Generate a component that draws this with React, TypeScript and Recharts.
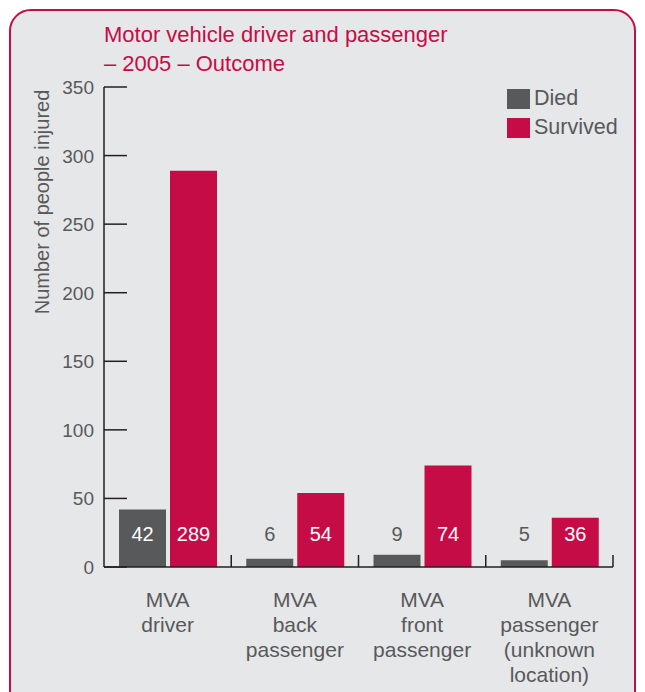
import { BarChart, Bar, XAxis, YAxis, LabelList } from "recharts";

const categories = [
    ["MVA", "driver"],
    ["MVA", "back", "passenger"],
    ["MVA", "front", "passenger"],
    ["MVA", "passenger", "(unknown", "location)"],
];
const died = [42, 6, 9, 5];
const survived = [289, 54, 74, 36];
const yTicks = [0, 50, 100, 150, 200, 250, 300, 350];

const CRIMSON = "#c60c46";
const GREY = "#58595b";
const AXIS = "#231f20";
const FONT = "'Liberation Sans', Arial, sans-serif";

const CHART_W = 645;
const CHART_H = 692;
const LEFT = 104;
const RIGHT = 32;
const BAND = (CHART_W - LEFT - RIGHT) / categories.length;

const data = categories.map((lines, i) => ({
    name: lines.join(" "),
    Died: died[i],
    Survived: survived[i],
}));

const legendItems = [
    { label: "Died", color: GREY },
    { label: "Survived", color: CRIMSON },
];

function YTick({ x, y, payload }: any) {
    return (
        <g>
            <line x1={x} x2={x + 23} y1={y} y2={y} stroke={AXIS} strokeWidth={1.5} />
            <text x={x - 10} y={y + 7} textAnchor="end" fill={GREY} fontSize={19} fontFamily={FONT}>
                {payload.value}
            </text>
        </g>
    );
}

function XTick({ x, y, index }: any) {
    const lines = categories[index] ?? [];
    return (
        <g>
            <line x1={x + BAND / 2} x2={x + BAND / 2} y1={y} y2={y - 12} stroke={AXIS} strokeWidth={1.5} />
            {lines.map((line, i) => (
                <text
                    key={i}
                    x={x}
                    y={y + 40 + i * 25}
                    textAnchor="middle"
                    fill={GREY}
                    fontSize={21}
                    fontFamily={FONT}
                >
                    {line}
                </text>
            ))}
        </g>
    );
}

function ValueLabel({ x, y, width, height, value }: any) {
    const inside = height > 40;
    return (
        <text
            x={x + width / 2}
            y={y + height - 26}
            textAnchor="middle"
            fill={inside ? "#ffffff" : GREY}
            fontSize={20}
            fontFamily={FONT}
        >
            {value}
        </text>
    );
}

export default function App() {
    return (
        <div style={{ position: "fixed", left: 0, top: 0, width: 645, height: 692, overflow: "hidden" }}>
            <div
                style={{
                    position: "absolute",
                    left: 9,
                    top: 9,
                    width: 623,
                    height: 700,
                    border: `2.5px solid ${CRIMSON}`,
                    borderRadius: 22,
                    background: "#e6e7e8",
                }}
            />
            <div
                style={{
                    position: "absolute",
                    left: 104,
                    top: 20,
                    color: CRIMSON,
                    fontFamily: FONT,
                    fontSize: 22,
                    lineHeight: "29px",
                }}
            >
                <div>Motor vehicle driver and passenger</div>
                <div>– 2005 – Outcome</div>
            </div>
            <svg style={{ position: "absolute", left: 0, top: 0 }} width={80} height={692}>
                <text
                    transform="translate(49, 202) rotate(-90)"
                    textAnchor="middle"
                    fill={GREY}
                    fontSize={20}
                    fontFamily={FONT}
                >
                    Number of people injured
                </text>
            </svg>
            <div style={{ position: "absolute", left: 0, top: 0 }}>
                <BarChart
                    width={CHART_W}
                    height={CHART_H}
                    data={data}
                    margin={{ top: 87, right: RIGHT, left: 0, bottom: 0 }}
                    barSize={47}
                    barGap={4}
                >
                    <XAxis
                        dataKey="name"
                        height={125}
                        axisLine={{ stroke: AXIS, strokeWidth: 1.5 }}
                        tickLine={false}
                        tickSize={0}
                        tickMargin={0}
                        tick={<XTick />}
                        interval={0}
                    />
                    <YAxis
                        width={LEFT}
                        domain={[0, 350]}
                        ticks={yTicks}
                        axisLine={{ stroke: AXIS, strokeWidth: 1.5 }}
                        tickLine={false}
                        tickSize={0}
                        tickMargin={0}
                        tick={<YTick />}
                        interval={0}
                    />
                    <Bar dataKey="Died" fill={GREY} isAnimationActive={false}>
                        <LabelList dataKey="Died" content={<ValueLabel />} />
                    </Bar>
                    <Bar dataKey="Survived" fill={CRIMSON} isAnimationActive={false}>
                        <LabelList dataKey="Survived" content={<ValueLabel />} />
                    </Bar>
                </BarChart>
            </div>
            <div style={{ position: "absolute", left: 507, top: 84, fontFamily: FONT }}>
                {legendItems.map((it) => (
                    <div key={it.label} style={{ display: "flex", alignItems: "center", height: 29 }}>
                        <span style={{ width: 23, height: 20, background: it.color, marginRight: 4 }} />
                        <span style={{ fontSize: 21.5, color: GREY }}>{it.label}</span>
                    </div>
                ))}
            </div>
        </div>
    );
}
